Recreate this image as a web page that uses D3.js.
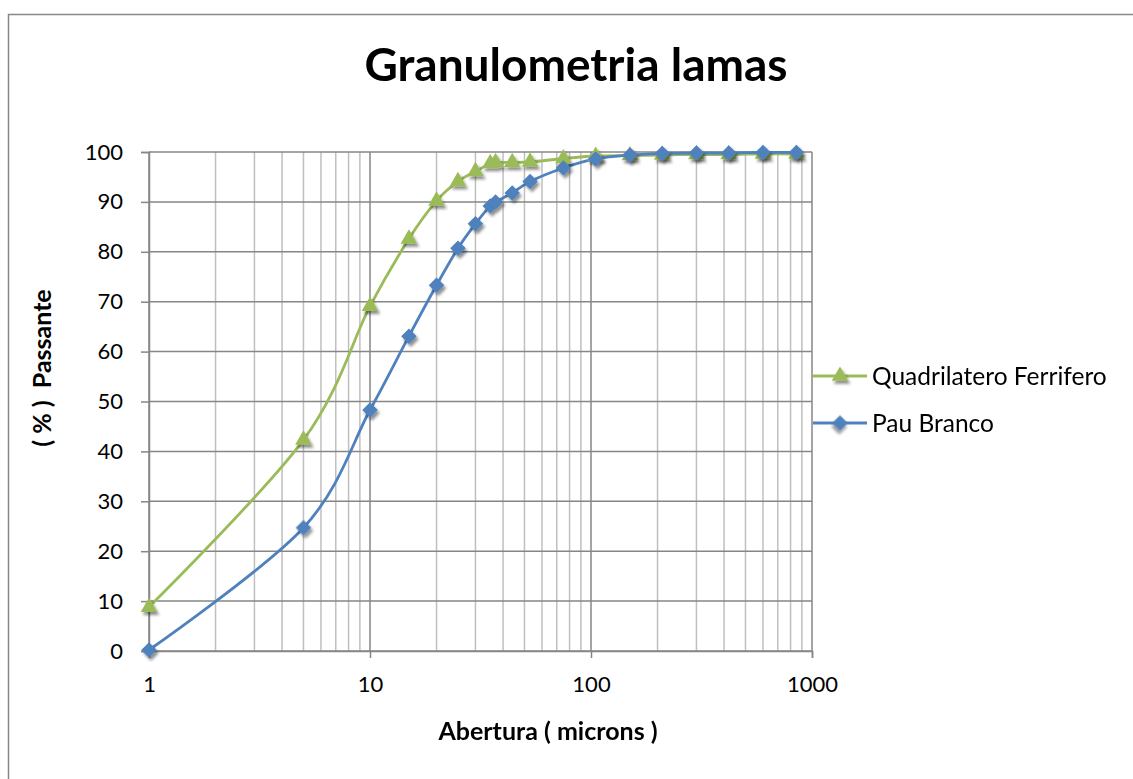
<!DOCTYPE html>
<html>
<head>
<meta charset="utf-8">
<script src="https://cdn.jsdelivr.net/npm/d3@7"></script>
<style>
  html, body { margin: 0; padding: 0; background: #ffffff; }
  svg { display: block; }
  text { font-family: Lato, "Open Sans", "Noto Sans", sans-serif; fill: #000; }
</style>
</head>
<body>
<svg id="chart" width="1133" height="779"></svg>
<script>
// Sieve / laser openings in microns
const aberturaQF = [1, 5, 10, 15, 20, 25, 30, 35, 37, 44, 53, 75, 105, 150, 210, 300, 420, 600, 850];
const passanteQF = [8.8, 42.3, 69.1, 82.6, 90.2, 94.1, 96.1, 97.7, 97.9, 97.9, 98.0, 98.7, 99.2, 99.3, 99.4, 99.5, 99.5, 99.6, 99.6];

const aberturaPB = [1, 5, 10, 15, 20, 25, 30, 35, 37, 44, 53, 75, 105, 150, 210, 300, 420, 600, 850];
const passantePB = [0.2, 24.7, 48.3, 63.1, 73.3, 80.7, 85.6, 89.2, 90.0, 91.8, 94.1, 96.8, 98.6, 99.4, 99.7, 99.8, 99.8, 99.9, 99.9];

const seriesNames = ["Quadrilatero Ferrifero", "Pau Branco"];
const yTicks = [0, 10, 20, 30, 40, 50, 60, 70, 80, 90, 100];
const xTicks = [1, 10, 100, 1000];

const titleText = "Granulometria lamas";
const xTitle = "Abertura ( microns )";
const yTitle = "( % )  Passante";

const green = "#9BBB59";
const blue = "#4F81BD";

const svg = d3.select("#chart");

// Outer chart frame
svg.append("rect")
  .attr("x", 8.5).attr("y", 14.5)
  .attr("width", 1140).attr("height", 800)
  .attr("fill", "#fff")
  .attr("stroke", "#878787")
  .attr("stroke-width", 1.5);

const defs = svg.append("defs");
const f = defs.append("filter").attr("id", "shadow")
  .attr("x", "-50%").attr("y", "-50%").attr("width", "200%").attr("height", "200%");
f.append("feGaussianBlur").attr("in", "SourceAlpha").attr("stdDeviation", 1.6).attr("result", "b");
f.append("feOffset").attr("in", "b").attr("dx", 2).attr("dy", 2.5).attr("result", "o");
f.append("feComponentTransfer").attr("in", "o").attr("result", "s")
  .append("feFuncA").attr("type", "linear").attr("slope", 0.45);
const m = f.append("feMerge");
m.append("feMergeNode").attr("in", "s");
m.append("feMergeNode").attr("in", "SourceGraphic");

const x = d3.scaleLog().domain([1, 1000]).range([149, 812]);
const y = d3.scaleLinear().domain([0, 100]).range([651, 152]);

// Minor vertical grid lines (2..9 in each decade)
const minor = [];
[1, 10, 100].forEach(d => { for (let k = 2; k <= 9; k++) minor.push(d * k); });
svg.append("g").selectAll("line").data(minor).join("line")
  .attr("x1", d => x(d)).attr("x2", d => x(d))
  .attr("y1", y(0)).attr("y2", y(100))
  .attr("stroke", "#BFBFBF").attr("stroke-width", 1.5);

// Major vertical grid lines
svg.append("g").selectAll("line").data(xTicks).join("line")
  .attr("x1", d => x(d)).attr("x2", d => x(d))
  .attr("y1", y(0)).attr("y2", y(100))
  .attr("stroke", "#868686").attr("stroke-width", 1.5);

// Horizontal grid lines
svg.append("g").selectAll("line").data(yTicks).join("line")
  .attr("x1", x(1)).attr("x2", x(1000))
  .attr("y1", d => y(d)).attr("y2", d => y(d))
  .attr("stroke", "#868686").attr("stroke-width", 1.5);

// Y axis with outward ticks
const yAxis = svg.append("g").attr("transform", `translate(${x(1)},0)`)
  .call(d3.axisLeft(y).tickValues(yTicks).tickSize(8).tickPadding(18).tickFormat(d3.format("d")));
yAxis.select(".domain").attr("stroke", "#868686").attr("stroke-width", 1.5);
yAxis.selectAll(".tick line").attr("stroke", "#868686").attr("stroke-width", 1.5);
yAxis.selectAll(".tick text").attr("font-size", 22).attr("font-family", "Lato, sans-serif").attr("fill", "#000");

// X axis with outward ticks at decades
const xAxis = svg.append("g").attr("transform", `translate(0,${y(0)})`)
  .call(d3.axisBottom(x).tickValues(xTicks).tickSize(7).tickPadding(18).tickFormat(d3.format("d")));
xAxis.select(".domain").attr("stroke", "#868686").attr("stroke-width", 1.5);
xAxis.selectAll(".tick line").attr("stroke", "#868686").attr("stroke-width", 1.5);
xAxis.selectAll(".tick text").attr("font-size", 22).attr("font-family", "Lato, sans-serif").attr("fill", "#000");

// Smoothed series lines
const line = d3.line().x(d => x(d[0])).y(d => y(d[1])).curve(d3.curveCatmullRom.alpha(0));
const qf = aberturaQF.map((a, i) => [a, passanteQF[i]]);
const pb = aberturaPB.map((a, i) => [a, passantePB[i]]);

svg.append("path").datum(qf).attr("d", line)
  .attr("fill", "none").attr("stroke", green).attr("stroke-width", 2.8);
svg.append("path").datum(pb).attr("d", line)
  .attr("fill", "none").attr("stroke", blue).attr("stroke-width", 2.8);

const tri = d3.symbol().type(d3.symbolTriangle).size(120);
const dia = d3.symbol().type(d3.symbolSquare).size(120);

svg.append("g").attr("filter", "url(#shadow)").selectAll("path").data(qf).join("path")
  .attr("d", tri)
  .attr("transform", d => `translate(${x(d[0])},${y(d[1])})`)
  .attr("fill", green);

svg.append("g").attr("filter", "url(#shadow)").selectAll("path").data(pb).join("path")
  .attr("d", dia)
  .attr("transform", d => `translate(${x(d[0])},${y(d[1])}) rotate(45)`)
  .attr("fill", blue);

// Title and axis titles
svg.append("text").attr("x", 576).attr("y", 81).attr("text-anchor", "middle")
  .attr("font-size", 46).attr("font-weight", "bold").text(titleText);

svg.append("text").attr("x", 548).attr("y", 740).attr("text-anchor", "middle")
  .attr("font-size", 25).attr("font-weight", "bold").text(xTitle);

svg.append("text").attr("transform", "translate(51,368) rotate(-90)").attr("text-anchor", "middle")
  .attr("font-size", 25).attr("font-weight", "bold").attr("xml:space", "preserve")
  .style("white-space", "pre").text(yTitle);

// Legend
const legend = svg.append("g");
const legendItems = [
  { name: seriesNames[0], color: green, sym: tri, rot: 0, cy: 376 },
  { name: seriesNames[1], color: blue, sym: dia, rot: 45, cy: 423 }
];
legendItems.forEach(it => {
  legend.append("line").attr("x1", 813).attr("x2", 867).attr("y1", it.cy).attr("y2", it.cy)
    .attr("stroke", it.color).attr("stroke-width", 2.8);
  legend.append("path").attr("d", it.sym)
    .attr("transform", `translate(840,${it.cy}) rotate(${it.rot})`)
    .attr("fill", it.color).attr("filter", "url(#shadow)");
  legend.append("text").attr("x", 872).attr("y", it.cy + 9).attr("font-size", 24.5).text(it.name);
});
</script>
</body>
</html>
